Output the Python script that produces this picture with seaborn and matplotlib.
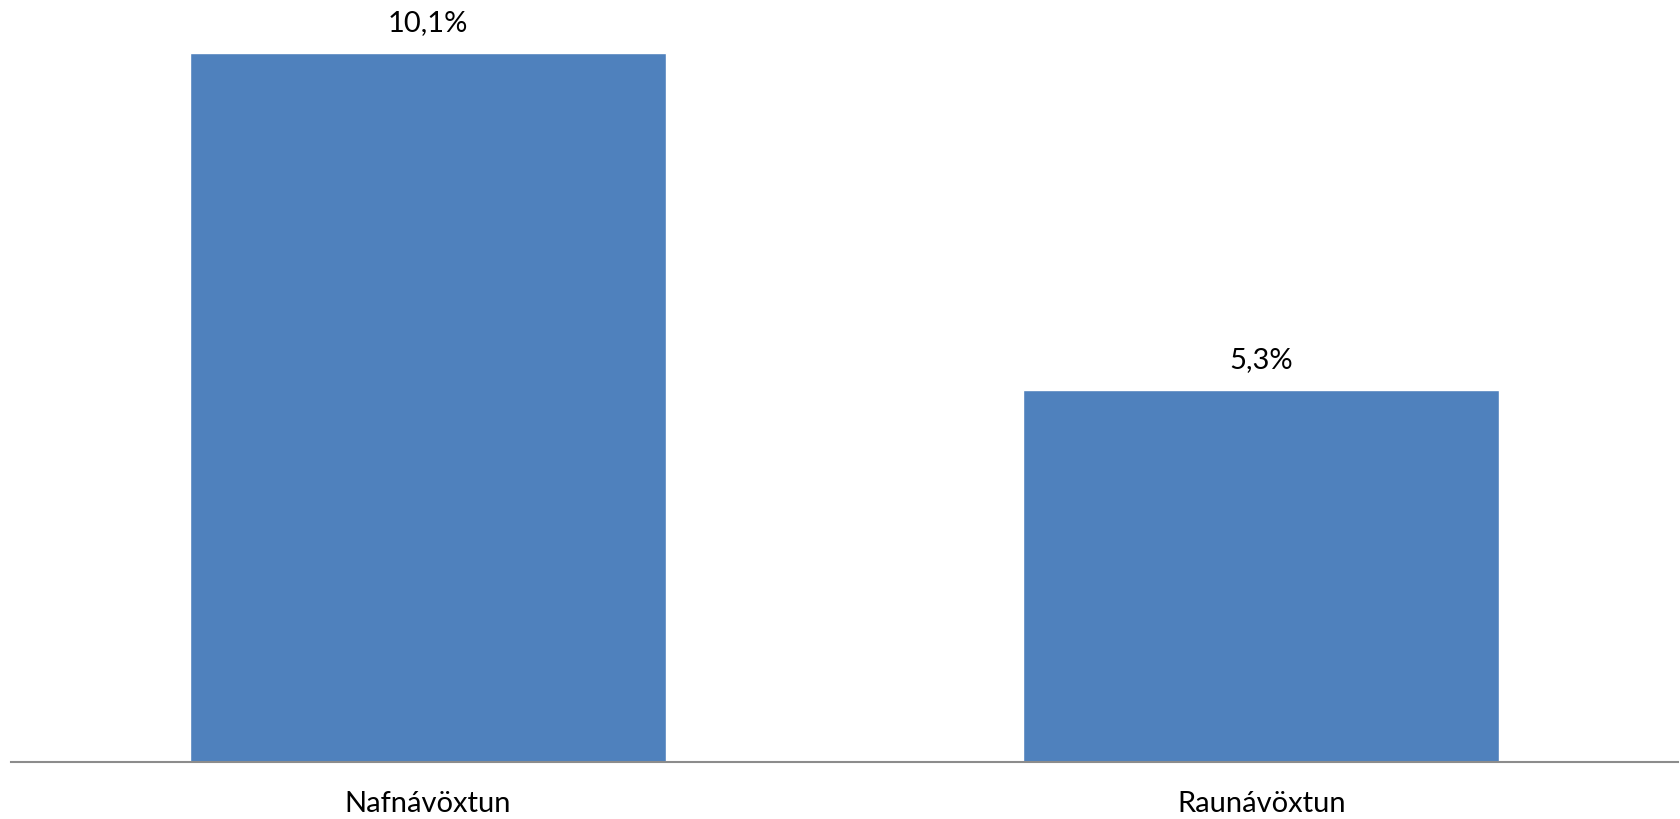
import pandas as pd
import matplotlib
matplotlib.use('Agg')
import matplotlib.pyplot as plt
import seaborn as sns

# Values
categories = ['Nafnávöxtun', 'Raunávöxtun']
values = [10.1, 5.3]
value_labels = ['10,1%', '5,3%']

df = pd.DataFrame({'Flokkur': categories, 'Ávöxtun': values})

sns.set_style('white')
plt.rcParams['font.family'] = ['Lato', 'DejaVu Sans']

fig = plt.figure(figsize=(16.81, 8.19), dpi=100)
ax = fig.add_axes([11 / 1681, 57 / 819, 1667 / 1681, 762 / 819])

sns.barplot(data=df, x='Flokkur', y='Ávöxtun', color='#4F81BD', saturation=1,
            width=0.571, ax=ax)

ax.set_ylim(0, 10.86)
ax.set_xlim(-0.5, 1.5)

for i, (v, lab) in enumerate(zip(values, value_labels)):
    ax.annotate(lab, (i, v), xytext=(0, 21.5), textcoords='offset points',
                ha='center', va='center', fontsize=21, color='black')

for s in ['top', 'right', 'left']:
    ax.spines[s].set_visible(False)
ax.spines['bottom'].set_color('#8c8c8c')
ax.spines['bottom'].set_linewidth(1.5)

ax.set_yticks([])
ax.set_xlabel('')
ax.set_ylabel('')
ax.tick_params(axis='x', length=0, pad=21, labelsize=21, labelcolor='black')

fig.savefig('out.png', dpi=100)
